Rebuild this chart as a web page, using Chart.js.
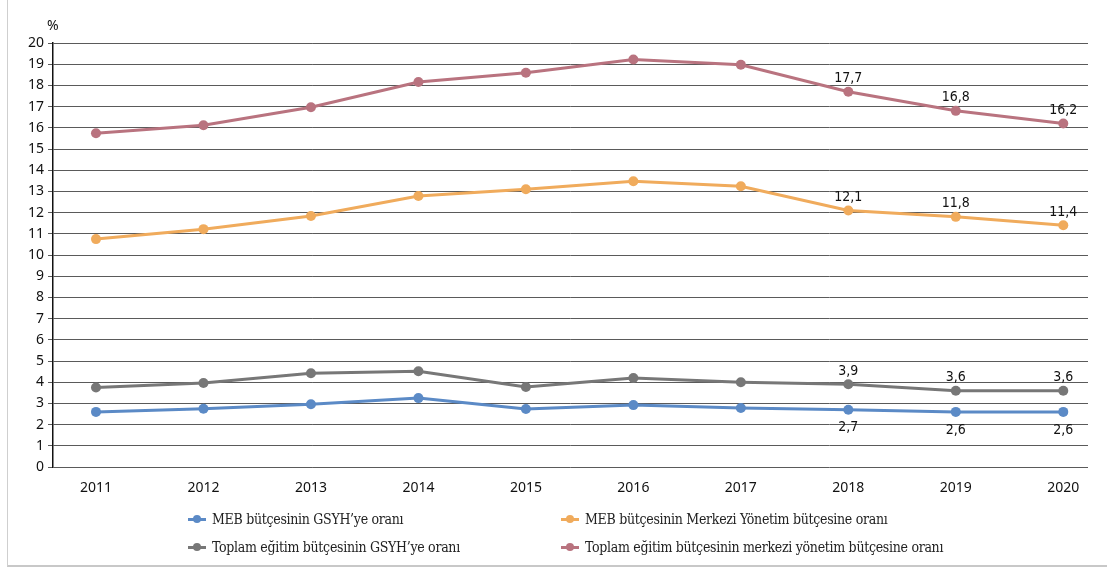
<!DOCTYPE html>
<html>
<head>
<meta charset="utf-8">
<script src="https://cdn.jsdelivr.net/npm/chart.js@4.4.0/dist/chart.umd.min.js"></script>
<style>
  html, body { margin: 0; padding: 0; background: #fff; }
  #wrap { position: relative; width: 1107px; height: 569px; overflow: hidden; }
  #frame { position: absolute; left: 7px; top: 0; width: 1110px; height: 565px;
           border-left: 1px solid #cfcfcf; border-bottom: 2px solid #c8c8c8; }
  #pct { position: absolute; left: 47px; top: 15px; font: 14px "Noto Sans", sans-serif; color: #111; }
  .leg { position: absolute; font: 14px "DejaVu Serif Condensed", "DejaVu Serif", serif; color: #222;
         display: flex; align-items: center; white-space: nowrap; letter-spacing: -0.3px; }
  .mk { position: relative; width: 18px; height: 10px; margin-right: 6px; }
  .mk i { position: absolute; left: 0; top: 4px; width: 18px; height: 3px; }
  .mk b { position: absolute; left: 5px; top: 1px; width: 8px; height: 8px; border-radius: 50%; }
</style>
</head>
<body>
<div id="wrap">
  <div id="frame"></div>
  <canvas id="chart" width="1107" height="569"></canvas>
  <div id="pct">%</div>
  <div id="legend"></div>
</div>
<script>
const years = [2011, 2012, 2013, 2014, 2015, 2016, 2017, 2018, 2019, 2020];

const seriesNames = [
  "MEB bütçesinin GSYH’ye oranı",
  "MEB bütçesinin Merkezi Yönetim bütçesine oranı",
  "Toplam eğitim bütçesinin GSYH’ye oranı",
  "Toplam eğitim bütçesinin merkezi yönetim bütçesine oranı"
];
const seriesColors = ["#5b8ac6", "#f0ab5c", "#777777", "#b9737f"];

const mebGsyh = [2.6, 2.75, 2.96, 3.25, 2.74, 2.92, 2.78, 2.7, 2.6, 2.6];
const mebMerkezi = [10.75, 11.22, 11.84, 12.78, 13.1, 13.48, 13.24, 12.1, 11.8, 11.4];
const toplamGsyh = [3.75, 3.96, 4.42, 4.52, 3.77, 4.2, 4.0, 3.9, 3.6, 3.6];
const toplamMerkezi = [15.74, 16.12, 16.97, 18.16, 18.6, 19.22, 18.97, 17.7, 16.8, 16.2];

const labelledYears = [2018, 2019, 2020];
const labelBelow = [true, false, false, false];

const yTicks = [0, 1, 2, 3, 4, 5, 6, 7, 8, 9, 10, 11, 12, 13, 14, 15, 16, 17, 18, 19, 20];

const allSeries = [mebGsyh, mebMerkezi, toplamGsyh, toplamMerkezi];

// point labels for the last years
const valueLabels = {
  id: 'valueLabels',
  afterDatasetsDraw(chart) {
    const ctx = chart.ctx;
    ctx.save();
    ctx.font = '14px "Liberation Sans Narrow", "DejaVu Sans Condensed", sans-serif';
    ctx.fillStyle = '#111';
    ctx.textAlign = 'center';
    ctx.textBaseline = 'middle';
    chart.data.datasets.forEach((ds, di) => {
      const meta = chart.getDatasetMeta(di);
      ds.data.forEach((pt, i) => {
        if (!labelledYears.includes(pt.x)) return;
        const el = meta.data[i];
        const txt = String(pt.y).replace('.', ',');
        const dy = labelBelow[di] ? 18 : -13;
        ctx.fillText(txt, el.x, el.y + dy);
      });
    });
    ctx.restore();
  }
};

const datasets = allSeries.map((vals, k) => ({
  label: seriesNames[k],
  data: vals.map((v, i) => ({ x: years[i], y: v })),
  borderColor: seriesColors[k],
  backgroundColor: seriesColors[k],
  pointBackgroundColor: seriesColors[k],
  pointBorderWidth: 0,
  pointRadius: 5,
  borderWidth: 3,
  tension: 0
}));
// draw pink & orange on top like the source
datasets.forEach((d, k) => d.order = 4 - k);

new Chart(document.getElementById('chart'), {
  type: 'line',
  data: { datasets },
  options: {
    responsive: false,
    animation: false,
    layout: { padding: { left: 0, top: 43, right: 19, bottom: 0 } },
    plugins: { legend: { display: false }, tooltip: { enabled: false } },
    scales: {
      x: {
        type: 'linear',
        min: 2010.6,
        max: 2020.23,
        afterBuildTicks: (s) => { s.ticks = years.map(v => ({ value: v })); },
        afterFit: (s) => { s.height = 102; },
        grid: { display: false },
        border: { display: false },
        ticks: {
          padding: 5,
          color: '#111',
          font: { family: '"Noto Sans", sans-serif', size: 14 },
          callback: (v) => String(v)
        }
      },
      y: {
        min: 0,
        max: 20,
        afterBuildTicks: (s) => { s.ticks = yTicks.map(v => ({ value: v })); },
        afterFit: (s) => { s.width = 53; },
        grid: { color: '#5a5a5a', lineWidth: 1, tickLength: 5 },
        border: { display: true, color: '#111', width: 1.5 },
        ticks: {
          padding: 4,
          color: '#111',
          font: { family: '"Noto Sans", sans-serif', size: 14 }
        }
      }
    }
  },
  plugins: [valueLabels]
});

// legend in two columns, like the source
const legendPos = [[188, 511], [561, 511], [188, 539], [561, 539]];
const legendEl = document.getElementById('legend');
seriesNames.forEach((name, k) => {
  const d = document.createElement('div');
  d.className = 'leg';
  d.style.left = legendPos[k][0] + 'px';
  d.style.top = legendPos[k][1] + 'px';
  d.innerHTML = '<span class="mk"><i style="background:' + seriesColors[k] + '"></i><b style="background:' +
    seriesColors[k] + '"></b></span>' + name;
  legendEl.appendChild(d);
});
</script>
</body>
</html>
